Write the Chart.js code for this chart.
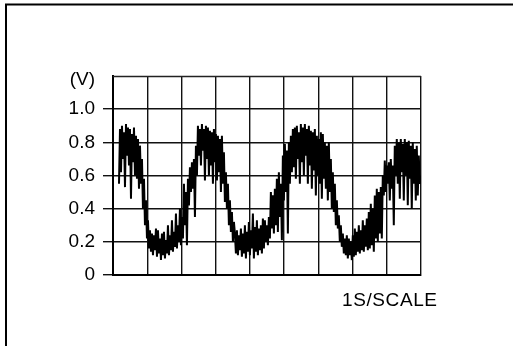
<!DOCTYPE html>
<html>
<head>
<meta charset="utf-8">
<script src="https://cdn.jsdelivr.net/npm/chart.js@4.4.1/dist/chart.umd.min.js"></script>
<style>
  html, body { margin: 0; padding: 0; background: #fff; }
  canvas { display: block; }
</style>
</head>
<body>
<canvas id="c" width="513" height="346"></canvas>
<script>
// Axis labels
const yUnitLabel = '(V)';
const xScaleLabel = '1S/SCALE';
const yTickValues = [0, 0.2, 0.4, 0.6, 0.8, 1.0];
const yTickLabels = ['0', '0.2', '0.4', '0.6', '0.8', '1.0'];
const xDivisions = 9;          // 1 s per division
const yMaxVolts = 1.2;

// Recorded trace (volts), uniformly sampled
const sampleStartS = 0.175;
const sampleIntervalS = 0.0292;
const traceVolts = [
  0.55,0.88,0.62,0.90,0.70,0.86,0.53,0.91,0.72,0.89,0.66,0.88,0.46,0.85,0.68,0.89,0.60,0.84,0.58,0.82,0.52,0.78,0.55,0.70,0.40,0.58,0.30,0.45,0.22,
  0.33,
  0.16,0.27,0.14,0.25,0.12,0.24,0.15,0.28,0.11,0.27,0.13,0.22,0.09,0.25,0.12,0.26,0.10,0.21,0.13,0.30,0.12,0.24,0.15,0.33,0.14,0.26,0.17,0.37,0.16,0.30,0.20,0.40,0.18,0.35,
  0.22,0.55,0.30,0.50,0.18,0.58,0.42,0.65,0.50,0.68,0.52,0.70,0.35,0.78,0.60,0.90,
  0.72,0.88,0.66,0.91,0.75,0.88,0.57,0.90,0.70,0.89,0.60,0.87,0.66,0.86,0.55,0.88,0.68,0.85,0.57,0.84,0.62,0.82,0.50,0.84,0.55,0.74,0.44,0.62,0.40,0.55,0.30,0.45,0.26,0.38,0.20,0.32,
  0.25,0.13,0.27,0.12,0.24,0.15,0.28,0.11,0.25,0.13,0.30,0.10,0.26,0.14,0.32,0.12,0.27,0.16,0.37,0.10,0.29,0.14,0.33,0.12,0.28,0.15,0.30,0.13,0.34,0.16,0.33,0.20,0.30,0.18,0.35,
  0.22,0.50,0.28,0.48,0.25,0.52,0.30,0.58,0.26,0.62,0.35,0.55,0.21,0.72,0.45,0.79,0.50,0.75,0.25,0.80,0.55,0.84,0.62,0.88,
  0.65,0.89,0.58,0.90,0.70,0.86,0.55,0.91,0.68,0.89,0.60,0.91,0.72,0.88,0.55,0.90,0.66,0.87,0.52,0.86,0.63,0.88,0.48,0.84,0.60,0.82,0.55,0.86,0.46,0.85,0.58,0.80,0.52,0.78,0.45,0.80,0.50,0.70,0.40,0.62,0.38,0.55,0.30,0.45,0.28,0.36,0.20,
  0.30,0.17,0.25,0.13,0.22,0.12,0.24,0.10,0.22,0.12,0.20,0.09,0.24,0.11,0.28,0.12,0.26,0.14,0.30,0.13,0.27,0.15,0.33,0.14,0.30,0.17,0.34,0.15,0.38,0.16,
  0.43,0.18,0.40,0.14,0.48,0.22,0.52,0.20,0.50,0.25,0.53,0.22,0.60,0.48,0.69,0.50,0.66,0.55,0.68,0.45,0.70,0.52,0.66,0.30,0.78,
  0.60,0.82,0.55,0.80,0.46,0.82,0.62,0.79,0.45,0.82,0.60,0.80,0.42,0.81,0.58,0.78,0.40,0.80,0.55,0.76,0.45,0.78,0.48,0.72,0.55,0.60
];
const tracePoints = traceVolts.map((v, i) => ({ x: sampleStartS + i * sampleIntervalS, y: v }));

const FONT = '"Liberation Sans", Arial, Helvetica, sans-serif';

const decorations = {
  id: 'decorations',
  beforeDraw(chart) {
    const ctx = chart.ctx;
    ctx.save();
    ctx.fillStyle = '#fff';
    ctx.fillRect(0, 0, chart.width, chart.height);
    ctx.strokeStyle = '#000';
    ctx.lineWidth = 2;
    ctx.beginPath();
    ctx.moveTo(6, 346);
    ctx.lineTo(6, 4.5);
    ctx.lineTo(513, 4.5);
    ctx.stroke();
    ctx.restore();
  },
  afterDraw(chart) {
    const ctx = chart.ctx;
    const a = chart.chartArea;
    ctx.save();
    ctx.strokeStyle = '#222';
    ctx.lineWidth = 1.3;
    ctx.beginPath();
    ctx.moveTo(a.left, a.top + 0.5);
    ctx.lineTo(a.right, a.top + 0.5);
    ctx.stroke();
    ctx.fillStyle = '#000';
    ctx.font = '19px ' + FONT;
    ctx.textAlign = 'right';
    ctx.textBaseline = 'middle';
    ctx.fillText(yUnitLabel, 95, 80);
    ctx.font = '19px ' + FONT;
    ctx.textAlign = 'left';
    try { ctx.letterSpacing = '0.6px'; } catch (e) {}
    ctx.fillText(xScaleLabel, 342, 301);
    ctx.restore();
  }
};

new Chart(document.getElementById('c'), {
  type: 'line',
  data: {
    datasets: [{
      data: tracePoints,
      borderColor: '#000',
      borderWidth: 2,
      pointRadius: 0,
      tension: 0,
      fill: false
    }]
  },
  options: {
    responsive: false,
    animation: false,
    devicePixelRatio: 1,
    layout: { padding: { top: 76, right: 92, left: 0, bottom: 0 } },
    plugins: { legend: { display: false }, tooltip: { enabled: false } },
    scales: {
      x: {
        type: 'linear',
        min: 0,
        max: xDivisions,
        ticks: { display: false, stepSize: 1 },
        grid: { color: '#111', lineWidth: 1.4, drawTicks: false },
        border: { color: '#000', width: 2 },
        afterFit(s) { s.height = 71; }
      },
      y: {
        min: 0,
        max: yMaxVolts,
        afterBuildTicks(s) { s.ticks = yTickValues.map(v => ({ value: v })); },
        ticks: {
          color: '#000',
          padding: 8,
          font: { family: FONT, size: 19 },
          callback(value) {
            const i = yTickValues.findIndex(t => Math.abs(t - value) < 1e-6);
            return i >= 0 ? yTickLabels[i] : '';
          }
        },
        grid: { color: '#111', lineWidth: 1.4, tickLength: 10 },
        border: { color: '#000', width: 2 },
        afterFit(s) { s.width = 113; }
      }
    }
  },
  plugins: [decorations]
});
</script>
</body>
</html>
